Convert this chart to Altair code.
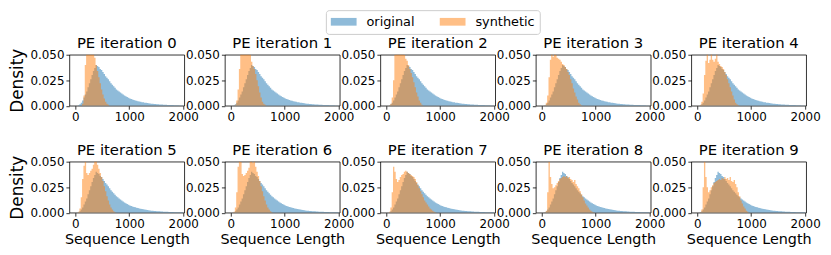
import altair as alt
import pandas as pd

BIN_START = 50
BIN_WIDTH = 25

series_names = ["original", "synthetic"]
series_colors = ["#1f77b4", "#ff7f0e"]
panel_titles = [f"PE iteration {i}" for i in range(10)]
x_ticks = [0, 1000, 2000]
y_ticks = [0.0, 0.025, 0.05]

# densities per 25-wide bin, first bin starts at 50
original = [
    0.0005, 0.0015, 0.003, 0.005, 0.008, 0.011, 0.014, 0.018, 0.022, 0.026,
    0.030, 0.034, 0.037, 0.040, 0.039, 0.038, 0.036, 0.035, 0.033, 0.031,
    0.029, 0.0275, 0.026, 0.024, 0.022, 0.0205, 0.019, 0.0175, 0.016, 0.015,
    0.014, 0.013, 0.012, 0.011, 0.010, 0.0092, 0.0085, 0.0078, 0.007, 0.0066,
    0.0061, 0.0056, 0.0052, 0.0048, 0.0045, 0.0041, 0.0038, 0.0035, 0.0033, 0.0030,
    0.0028, 0.0026, 0.0024, 0.0022, 0.0020, 0.0019, 0.0017, 0.0016, 0.0015, 0.0014,
    0.0013, 0.0012, 0.0011, 0.0010, 0.0009, 0.0009, 0.0008, 0.0007, 0.0007, 0.0006,
    0.0006, 0.0005, 0.0005, 0.0004, 0.0004, 0.0003, 0.0003, 0.0003,
]

synthetic_0 = [0.0, 0.0, 0.0, 0.002, 0.010, 0.040, 0.062, 0.070, 0.072, 0.068,
               0.060, 0.052, 0.047, 0.040, 0.034, 0.028, 0.022, 0.016, 0.011, 0.007,
               0.004, 0.002, 0.001]
synthetic_1 = [0.0, 0.001, 0.005, 0.016, 0.036, 0.055, 0.065, 0.068, 0.066, 0.062,
               0.058, 0.054, 0.050, 0.043, 0.039, 0.036, 0.031, 0.025, 0.019, 0.013,
               0.008, 0.004, 0.002, 0.001]
synthetic_2 = [0.0005, 0.002, 0.008, 0.025, 0.050, 0.058, 0.055, 0.060, 0.057, 0.052,
               0.055, 0.050, 0.046, 0.044, 0.040, 0.036, 0.032, 0.028, 0.023, 0.018,
               0.013, 0.009, 0.005, 0.003, 0.001]
synthetic_3 = [0.0005, 0.003, 0.010, 0.028, 0.045, 0.052, 0.048, 0.055, 0.050, 0.047,
               0.046, 0.045, 0.043, 0.041, 0.040, 0.038, 0.036, 0.033, 0.030, 0.026,
               0.022, 0.017, 0.013, 0.009, 0.006, 0.003, 0.0015, 0.0005]
synthetic_4 = [0.001, 0.004, 0.012, 0.030, 0.044, 0.052, 0.042, 0.045, 0.052, 0.045,
               0.043, 0.046, 0.052, 0.043, 0.041, 0.039, 0.038, 0.036, 0.033, 0.030,
               0.026, 0.022, 0.018, 0.014, 0.010, 0.006, 0.003, 0.0015, 0.0005]
synthetic_5 = [0.001, 0.004, 0.015, 0.033, 0.046, 0.050, 0.039, 0.037, 0.039, 0.041,
               0.043, 0.047, 0.051, 0.052, 0.047, 0.043, 0.039, 0.035, 0.031, 0.026,
               0.021, 0.016, 0.012, 0.008, 0.005, 0.003, 0.0015, 0.0005]
synthetic_6 = [0.001, 0.005, 0.020, 0.045, 0.052, 0.050, 0.038, 0.036, 0.037, 0.039,
               0.041, 0.044, 0.050, 0.053, 0.049, 0.052, 0.045, 0.040, 0.036, 0.031,
               0.026, 0.021, 0.016, 0.012, 0.008, 0.005, 0.003, 0.0015, 0.0005]
synthetic_7 = [0.001, 0.005, 0.020, 0.045, 0.040, 0.033, 0.030, 0.032, 0.035, 0.037,
               0.038, 0.040, 0.041, 0.040, 0.039, 0.038, 0.037, 0.036, 0.035, 0.033,
               0.030, 0.027, 0.024, 0.021, 0.018, 0.015, 0.012, 0.010, 0.008, 0.006,
               0.004, 0.003, 0.002, 0.001, 0.0005]
synthetic_8 = [0.0005, 0.002, 0.020, 0.050, 0.035, 0.028, 0.024, 0.025, 0.027, 0.029,
               0.031, 0.033, 0.034, 0.035, 0.036, 0.035, 0.036, 0.034, 0.035, 0.033,
               0.032, 0.030, 0.032, 0.028, 0.026, 0.024, 0.021, 0.018, 0.015, 0.012,
               0.009, 0.007, 0.005, 0.003, 0.002, 0.001, 0.0005]
synthetic_9 = [0.0005, 0.003, 0.025, 0.050, 0.035, 0.025, 0.020, 0.022, 0.025, 0.027,
               0.029, 0.030, 0.031, 0.032, 0.033, 0.032, 0.034, 0.033, 0.035, 0.033,
               0.034, 0.032, 0.035, 0.031, 0.030, 0.032, 0.028, 0.025, 0.020, 0.016,
               0.012, 0.009, 0.006, 0.004, 0.002, 0.001]

synthetic = [synthetic_0, synthetic_1, synthetic_2, synthetic_3, synthetic_4,
             synthetic_5, synthetic_6, synthetic_7, synthetic_8, synthetic_9]


def rows(values, series):
    out = [dict(series=series, x=BIN_START + k * BIN_WIDTH, density=v)
           for k, v in enumerate(values)]
    out.append(dict(series=series, x=BIN_START + len(values) * BIN_WIDTH, density=0.0))
    return pd.DataFrame(out)


legend = alt.Legend(
    orient="none", legendX=259, legendY=-45, direction="horizontal", title=None,
    symbolType="M-1,-0.6H3V0.6H-1Z", symbolSize=169, symbolOpacity=0.5,
    symbolStrokeWidth=0, labelFontSize=13, labelFont="DejaVu Sans",
    labelColor="black", labelOffset=23, columnPadding=25, padding=5,
    strokeColor="#cccccc", fillColor="white", cornerRadius=3,
)

color_scale = alt.Scale(domain=series_names, range=series_colors)


def panel(i):
    x_axis = alt.Axis(values=x_ticks, format="d", labelFlush=False,
                      title="Sequence Length" if i >= 5 else None)
    y_axis = alt.Axis(values=y_ticks, format=".3f", labelFlush=False,
                      title="Density" if i % 5 == 0 else None)
    enc = dict(
        x=alt.X("x:Q", scale=alt.Scale(domain=[-110, 2020], nice=False, zero=False), axis=x_axis),
        y=alt.Y("density:Q", stack=None, scale=alt.Scale(domain=[0, 0.05], nice=False), axis=y_axis),
        color=alt.Color("series:N", scale=color_scale, legend=legend),
    )
    layers = []
    for name, vals in (("original", original), ("synthetic", synthetic[i])):
        layers.append(
            alt.Chart(rows(vals, name))
            .mark_area(interpolate="step-after", opacity=0.5, clip=True)
            .encode(**enc)
        )
    return alt.layer(*layers, title=alt.TitleParams(panel_titles[i])).properties(
        width=116, height=51.5)


chart = (
    alt.concat(*[panel(i) for i in range(10)], columns=5,
               spacing={"row": 56, "column": 41}, bounds="flush")
    .resolve_scale(color="shared")
    .properties(padding={"left": -1, "top": 0, "right": 2, "bottom": 0})
    .configure(font="DejaVu Sans")
    .configure_view(stroke="black", strokeWidth=0.8)
    .configure_axis(domain=False, grid=False, tickColor="black", tickSize=3.5,
                    tickWidth=0.8, labelColor="black", labelFontSize=12,
                    labelFont="DejaVu Sans", labelPadding=2, titleColor="black",
                    titleFontWeight="normal", titleFont="DejaVu Sans")
    .configure_axisX(titleFontSize=14.5, titlePadding=4)
    .configure_axisY(titleFontSize=17, titlePadding=4)
    .configure_title(fontSize=15, fontWeight="normal", font="DejaVu Sans",
                     color="black", offset=-2.5, baseline="alphabetic", anchor="middle")
)

chart.save("out.html", embed_options={"renderer": "svg", "actions": False})
